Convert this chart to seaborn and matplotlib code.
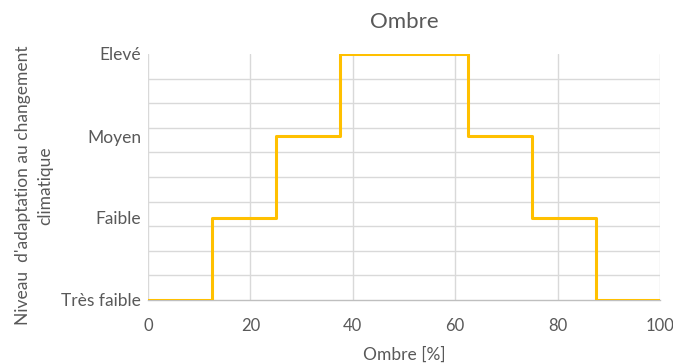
import numpy as np
import pandas as pd
import matplotlib
matplotlib.use("Agg")
import matplotlib.pyplot as plt
import seaborn as sns

# Shade percentage breakpoints and adaptation level (index into level_labels)
shade_pct = [0, 12.5, 25, 37.5, 62.5, 75, 87.5, 100]
level_idx = [0, 1, 2, 3, 2, 1, 0, 0]
level_labels = ["Très faible", "Faible", "Moyen", "Elevé"]
x_ticks = [0, 20, 40, 60, 80, 100]

df = pd.DataFrame({"Ombre": shade_pct, "Niveau": level_idx})

sns.set_style("white")
plt.rcParams["font.family"] = ["Lato", "DejaVu Sans"]

text_col = "#595959"
grid_col = "#d9d9d9"

fig = plt.figure(figsize=(6.73, 3.63), dpi=100)
ax = fig.add_axes([148 / 673, 1 - 300 / 363, (660 - 148) / 673, (300 - 54) / 363])

sns.lineplot(data=df, x="Ombre", y="Niveau", drawstyle="steps-post",
             color="#FFC000", linewidth=2.2, sort=False, ax=ax, zorder=3)

ax.set_xlim(0, 100)
ax.set_ylim(0, 3)
ax.set_xticks(x_ticks)
ax.set_xticklabels([str(t) for t in x_ticks])
ax.set_yticks(range(len(level_labels)))
ax.set_yticklabels(level_labels)
ax.set_yticks(np.linspace(0, 3, 11), minor=True)

ax.grid(False)
ax.grid(True, which="minor", axis="y", color=grid_col, linewidth=1.0)
ax.grid(True, which="major", axis="x", color=grid_col, linewidth=1.0)
for s in ["top", "right", "left"]:
    ax.spines[s].set_visible(False)
ax.spines["bottom"].set_color("#bfbfbf")
ax.spines["bottom"].set_linewidth(1.0)

ax.tick_params(axis="both", which="both", length=0, labelsize=12.5, labelcolor=text_col)
ax.tick_params(axis="x", labelsize=12)
ax.tick_params(axis="y", pad=5)
ax.tick_params(axis="x", pad=13)

ax.set_xlabel("Ombre [%]", fontsize=12.5, color=text_col, labelpad=9)
ax.set_ylabel("Niveau  d'adaptation au changement\nclimatique", fontsize=12.5,
              color=text_col, linespacing=1.45)
ax.yaxis.set_label_coords(-0.186, 0.465)
ax.set_title("Ombre", fontsize=16, color=text_col, pad=19)

fig.savefig("out.png", dpi=100)
